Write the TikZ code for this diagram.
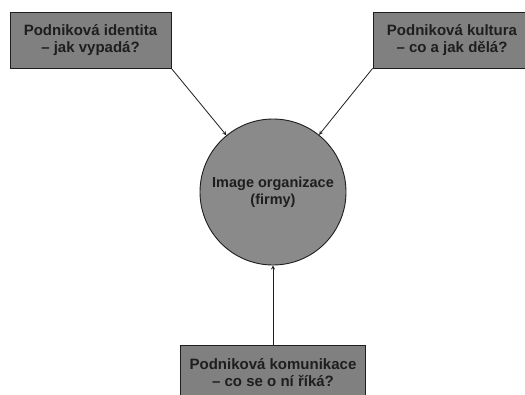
\documentclass[tikz,border=0pt]{standalone}
\usepackage{fontspec}
\setmainfont{Liberation Sans}
\definecolor{boxgray}{HTML}{808080}
\definecolor{circgray}{HTML}{8A8A8A}
\definecolor{inkgray}{HTML}{1E1E1E}
\tikzset{
  aspect/.style={draw=inkgray,line width=0.8pt,fill=boxgray,align=center,
    inner sep=0pt,minimum height=56pt,text=inkgray,
    font=\bfseries\fontsize{15}{17}\selectfont},
  image/.style={circle,draw=inkgray,line width=0.9pt,fill=circgray,align=center,
    inner sep=0pt,minimum size=146pt,text=inkgray,
    font=\bfseries\fontsize{14.5}{17}\selectfont}
}
\begin{document}
\begin{tikzpicture}[x=1pt,y=-1pt]
\useasboundingbox (0,0) rectangle (525,394);
\node[image](img) at(273,192) {Image organizace\\(firmy)};
\node[aspect,minimum width=161pt](ident) at(90.5,40) {Podniková identita\\– jak vypadá?};
\node[aspect,minimum width=158pt](kult) at(452,40) {Podniková kultura\\– co a jak dělá?};
\node[aspect,minimum width=185pt](komun) at(273,373) {Podniková komunikace\\– co se o ní říká?};
\foreach \p in {ident.south east,kult.south west,komun.north}
\draw[->,>=stealth,draw=inkgray,line width=0.8pt](\p)--(img);
\end{tikzpicture}
\end{document}
